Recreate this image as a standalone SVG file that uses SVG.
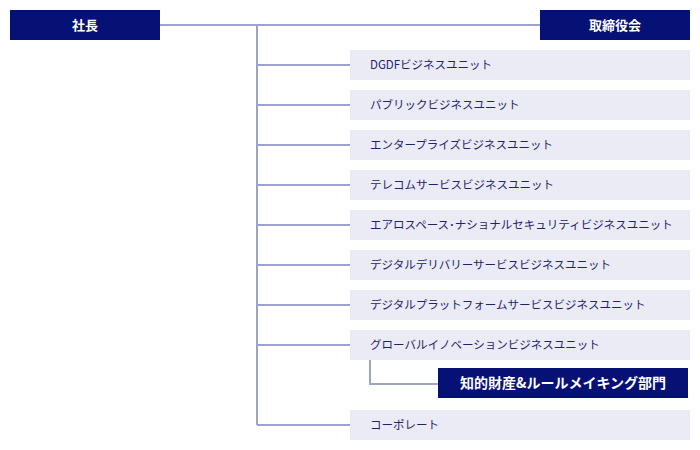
<svg xmlns="http://www.w3.org/2000/svg" width="700" height="450" viewBox="0 0 700 450">
<style>
.d{fill:#061175}.l{fill:#ebebf5}
.h{font-family:"Noto Sans CJK JP","Noto Sans",sans-serif;font-size:13px;font-weight:bold;fill:#fff;text-anchor:middle}
.t{font-family:"Noto Sans CJK JP","Noto Sans",sans-serif;font-size:11.5px;fill:#1c2470}
.c{fill:none;stroke:#9ea3c8;stroke-width:2}
</style>
<g id="connectors">
<path class="c" d="M160 25H540M257 25V425M257 65H350M257 105H350M257 145H350M257 185H350M257 225H350M257 265H350M257 305H350M257 345H350M257 425H350M370 360V384H438"/>
</g>
<g id="president"><rect class="d" x="10" y="10" width="150" height="30"/><text class="h" x="85" y="30">社長</text></g>
<g id="board"><rect class="d" x="540" y="10" width="150" height="30"/><text class="h" x="615" y="30">取締役会</text></g>
<g id="n1"><rect class="l" x="350" y="50" width="340" height="30"/><text class="t" x="370" y="69">DGDFビジネスユニット</text></g>
<g id="n2"><rect class="l" x="350" y="90" width="340" height="30"/><text class="t" x="370" y="109">パブリックビジネスユニット</text></g>
<g id="n3"><rect class="l" x="350" y="130" width="340" height="30"/><text class="t" x="370" y="149">エンタープライズビジネスユニット</text></g>
<g id="n4"><rect class="l" x="350" y="170" width="340" height="30"/><text class="t" x="370" y="189">テレコムサービスビジネスユニット</text></g>
<g id="n5"><rect class="l" x="350" y="210" width="340" height="30"/><text class="t" x="370" y="229">エアロスペース･ナショナルセキュリティビジネスユニット</text></g>
<g id="n6"><rect class="l" x="350" y="250" width="340" height="30"/><text class="t" x="370" y="269">デジタルデリバリーサービスビジネスユニット</text></g>
<g id="n7"><rect class="l" x="350" y="290" width="340" height="30"/><text class="t" x="370" y="309">デジタルプラットフォームサービスビジネスユニット</text></g>
<g id="n8"><rect class="l" x="350" y="330" width="340" height="30"/><text class="t" x="370" y="349">グローバルイノベーションビジネスユニット</text></g>
<g id="n9"><rect class="d" x="438" y="368" width="250" height="30"/><text class="h" x="563" y="388" style="font-size:14px">知的財産&amp;ルールメイキング部門</text></g>
<g id="n10"><rect class="l" x="350" y="410" width="340" height="30"/><text class="t" x="370" y="429">コーポレート</text></g>
</svg>
